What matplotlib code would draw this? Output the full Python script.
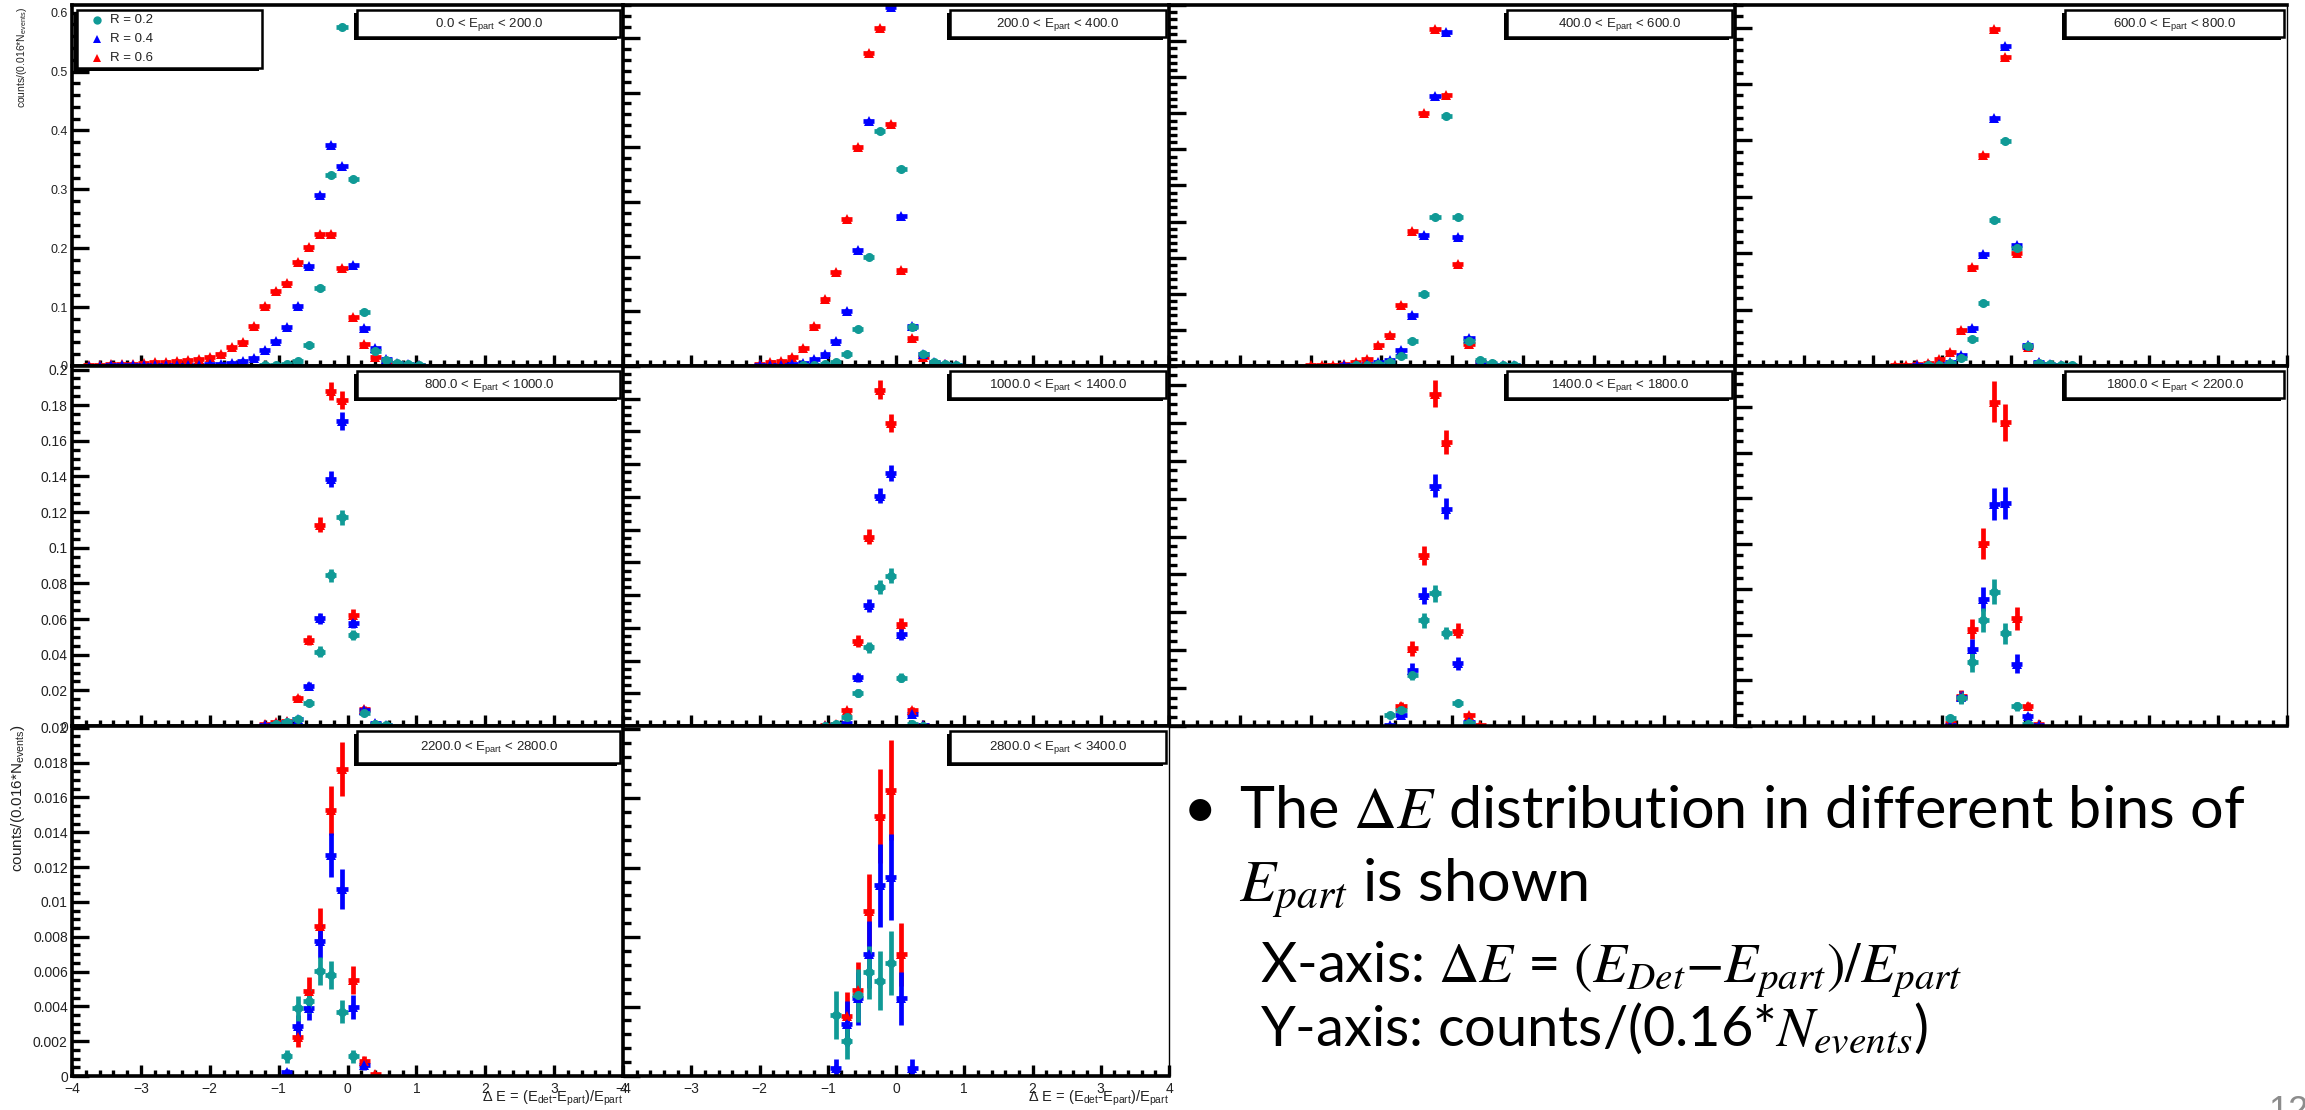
import matplotlib.pyplot as plt
from matplotlib.lines import Line2D
from matplotlib.patches import Rectangle
from matplotlib.ticker import MultipleLocator, FuncFormatter, NullFormatter

plt.rcParams['font.family'] = 'Liberation Sans'
plt.rcParams['mathtext.fontset'] = 'custom'
plt.rcParams['mathtext.rm'] = 'Liberation Sans'
plt.rcParams['mathtext.it'] = 'Liberation Sans:italic'
plt.rcParams['mathtext.bf'] = 'Liberation Sans:bold'

TEAL = '#109a96'
BLUE = '#0000ff'
RED = '#ff0000'
HALF_BIN = 0.08
NOTE_FONT = ['Liberation Sans Narrow', 'Lato']

# E_part bins of the ten pads
e_lo = [0.0, 200.0, 400.0, 600.0, 800.0, 1000.0, 1400.0, 1800.0, 2200.0, 2800.0]
e_hi = [200.0, 400.0, 600.0, 800.0, 1000.0, 1400.0, 1800.0, 2200.0, 2800.0, 3400.0]

# bin centres of Delta E used in each group of pads
x_p1 = [-3.76, -3.60, -3.44, -3.28, -3.12, -2.96, -2.80, -2.64, -2.48, -2.32, -2.16,
        -2.00, -1.84, -1.68, -1.52, -1.36, -1.20, -1.04, -0.88, -0.72, -0.56, -0.40,
        -0.24, -0.08, 0.08, 0.24, 0.40, 0.56, 0.72, 0.88, 1.04]
x_row1 = [-2.00, -1.84, -1.68, -1.52, -1.36, -1.20, -1.04, -0.88, -0.72, -0.56,
          -0.40, -0.24, -0.08, 0.08, 0.24, 0.40, 0.56, 0.72, 0.88]
x_row2 = [-1.20, -1.04, -0.88, -0.72, -0.56, -0.40, -0.24, -0.08, 0.08, 0.24, 0.40, 0.56]
x_row3 = [-0.88, -0.72, -0.56, -0.40, -0.24, -0.08, 0.08, 0.24, 0.40]

# pad 1: 0 < E < 200
r02_p1 = [0, 0, 0, 0, 0, 0, 0, 0, 0, 0, 0, 0, 0, 0, 0, 0, 0.001, 0.002, 0.003, 0.0085,
          0.035, 0.1325, 0.325, 0.576, 0.317, 0.091, 0.025, 0.010, 0.005, 0.003, 0.002]
r04_p1 = [0.0005, 0.0005, 0.001, 0.001, 0.001, 0.001, 0.0015, 0.0015, 0.002, 0.002, 0.002,
          0.003, 0.004, 0.005, 0.0085, 0.014, 0.027, 0.0427, 0.0665, 0.1025, 0.169, 0.291,
          0.375, 0.340, 0.172, 0.065, 0.030, 0.0125, 0.005, 0.003, 0.002]
r06_p1 = [0.002, 0.002, 0.003, 0.003, 0.004, 0.005, 0.006, 0.007, 0.008, 0.010, 0.0125,
          0.016, 0.020, 0.0325, 0.040, 0.068, 0.1025, 0.127, 0.141, 0.176, 0.2025, 0.2247,
          0.2247, 0.166, 0.0836, 0.037, 0.016, 0.006, 0.003, 0.002, 0.001]

# pad 2: 200 < E < 400
r02_p2 = [0, 0, 0, 0, 0.001, 0.002, 0.003, 0.007, 0.0225, 0.068, 0.199, 0.430, 0.71,
          0.361, 0.072, 0.022, 0.008, 0.004, 0.002]
r04_p2 = [0.001, 0.001, 0.002, 0.003, 0.006, 0.012, 0.0225, 0.045, 0.100, 0.212, 0.448,
          0.70, 0.657, 0.274, 0.074, 0.0225, 0.008, 0.003, 0.002]
r06_p2 = [0.004, 0.007, 0.010, 0.0165, 0.0335, 0.073, 0.122, 0.172, 0.268, 0.40, 0.573,
          0.618, 0.443, 0.175, 0.052, 0.016, 0.006, 0.003, 0.001]

# pad 3: 400 < E < 600
r02_p3 = [0, 0, 0, 0, 0.001, 0.002, 0.003, 0.006, 0.014, 0.0347, 0.100, 0.207, 0.346,
          0.206, 0.035, 0.008, 0.004, 0.002, 0.001]
r04_p3 = [0, 0, 0, 0.001, 0.002, 0.003, 0.005, 0.009, 0.0227, 0.070, 0.181, 0.374, 0.463,
          0.178, 0.039, 0.006, 0.003, 0.002, 0.001]
r06_p3 = [0.001, 0.001, 0.002, 0.003, 0.005, 0.010, 0.029, 0.0435, 0.085, 0.1875, 0.350,
          0.467, 0.376, 0.141, 0.031, 0.005, 0.002, 0.001, 0]

# pad 4: 600 < E < 800
r02_p4 = [0, 0, 0, 0, 0, 0.001, 0.002, 0.005, 0.014, 0.047, 0.111, 0.2595, 0.399, 0.21,
          0.035, 0.006, 0.004, 0.002, 0.001]
r04_p4 = [0, 0, 0, 0, 0.001, 0.002, 0.003, 0.007, 0.019, 0.068, 0.198, 0.439, 0.568,
          0.215, 0.037, 0.007, 0.003, 0.002, 0]
r06_p4 = [0, 0, 0.001, 0.002, 0.003, 0.006, 0.012, 0.025, 0.064, 0.175, 0.374, 0.597,
          0.547, 0.200, 0.033, 0.005, 0.002, 0.001, 0]

# pad 5: 800 < E < 1000
r02_p5 = [0, 0.001, 0.002, 0.004, 0.0131, 0.0417, 0.0845, 0.117, 0.051, 0.0075, 0.001, 0.0005]
r04_p5 = [0.0005, 0.001, 0.002, 0.004, 0.0225, 0.0605, 0.1386, 0.171, 0.0578, 0.0092, 0.0015, 0.0005]
r06_p5 = [0.001, 0.002, 0.003, 0.0156, 0.0483, 0.113, 0.188, 0.183, 0.0623, 0.0098, 0.001, 0]
e02_p5 = [0, 0.0005, 0.0007, 0.001, 0.0018, 0.003, 0.0035, 0.004, 0.0028, 0.0012, 0.0004, 0.0003]
e04_p5 = [0.0003, 0.0005, 0.0007, 0.001, 0.002, 0.003, 0.0045, 0.005, 0.003, 0.0012, 0.0005, 0.0003]
e06_p5 = [0.0005, 0.0007, 0.0009, 0.0018, 0.0028, 0.004, 0.005, 0.005, 0.0032, 0.0013, 0.0005, 0]

# pad 6: 1000 < E < 1400
r02_p6 = [0, 0.0003, 0.0012, 0.0054, 0.0203, 0.048, 0.085, 0.0919, 0.0295, 0.0012, 0.0003, 0]
r04_p6 = [0, 0.0003, 0.0008, 0.002, 0.0297, 0.0737, 0.1407, 0.1546, 0.056, 0.0075, 0.0008, 0]
r06_p6 = [0, 0.0005, 0.001, 0.0095, 0.052, 0.1158, 0.2056, 0.185, 0.0622, 0.010, 0.0005, 0]
e02_p6 = [0, 0.0003, 0.0006, 0.0012, 0.0023, 0.0035, 0.0042, 0.0045, 0.0027, 0.0006, 0.0003, 0]
e04_p6 = [0, 0.0003, 0.0005, 0.0008, 0.0028, 0.0040, 0.0045, 0.0050, 0.0034, 0.0014, 0.0005, 0]
e06_p6 = [0, 0.0004, 0.0006, 0.0017, 0.0036, 0.0045, 0.0058, 0.0055, 0.0037, 0.0016, 0.0004, 0]

# pad 7: 1400 < E < 1800
r02_p7 = [0, 0, 0.0057, 0.0084, 0.027, 0.0557, 0.070, 0.049, 0.012, 0.0015, 0, 0]
r04_p7 = [0, 0, 0.0004, 0.0057, 0.0298, 0.0691, 0.1268, 0.1147, 0.033, 0.002, 0, 0]
r06_p7 = [0, 0, 0, 0.0107, 0.041, 0.090, 0.1754, 0.150, 0.0504, 0.0057, 0.0007, 0]
e02_p7 = [0, 0, 0.0012, 0.0015, 0.0028, 0.004, 0.0045, 0.0032, 0.0015, 0.0005, 0, 0]
e04_p7 = [0, 0, 0.0004, 0.0012, 0.0036, 0.0045, 0.006, 0.0055, 0.0033, 0.0008, 0, 0]
e06_p7 = [0, 0, 0, 0.0018, 0.0041, 0.0049, 0.007, 0.0064, 0.0037, 0.0013, 0.0005, 0]

# pad 8: 1800 < E < 2200
r02_p8 = [0, 0, 0.0037, 0.0123, 0.028, 0.0465, 0.059, 0.0406, 0.0086, 0.001, 0, 0]
r04_p8 = [0, 0, 0.0005, 0.0128, 0.034, 0.0556, 0.0974, 0.0979, 0.0273, 0.0044, 0.0005, 0]
r06_p8 = [0, 0, 0.0015, 0.013, 0.0424, 0.0801, 0.1424, 0.1333, 0.0472, 0.0089, 0.0007, 0]
e02_p8 = [0, 0, 0.0012, 0.0027, 0.0041, 0.0052, 0.0056, 0.0047, 0.0018, 0.0006, 0, 0]
e04_p8 = [0, 0, 0.0005, 0.0027, 0.0041, 0.0052, 0.0071, 0.0071, 0.0041, 0.0013, 0.0005, 0]
e06_p8 = [0, 0, 0.0008, 0.0027, 0.0044, 0.0066, 0.0089, 0.0081, 0.0049, 0.0018, 0.0006, 0]

# pad 9: 2200 < E < 2800
r02_p9 = [0.00112, 0.00388, 0.0043, 0.00603, 0.00578, 0.00369, 0.00112, 0, 0]
r04_p9 = [0.00023, 0.00285, 0.00388, 0.00774, 0.01268, 0.01074, 0.00397, 0.00065, 0]
r06_p9 = [0, 0.00222, 0.00489, 0.0086, 0.01525, 0.01762, 0.00551, 0.00089, 0.0001]
e02_p9 = [0.00038, 0.00072, 0.00067, 0.0008, 0.0008, 0.00067, 0.00038, 0, 0]
e04_p9 = [0.0002, 0.00063, 0.00067, 0.00095, 0.00127, 0.00116, 0.00067, 0.00028, 0]
e06_p9 = [0, 0.00053, 0.0008, 0.00105, 0.0014, 0.00154, 0.00082, 0.00028, 0.0001]

# pad 10: 2800 < E < 3400
r02_p10 = [0.00439, 0.00253, 0.0058, 0.00747, 0.00687, 0.00812, 0, 0, 0]
r04_p10 = [0.0006, 0.00378, 0.0056, 0.00875, 0.01374, 0.01434, 0.0056, 0.0006, 0]
r06_p10 = [0, 0.00434, 0.0062, 0.01186, 0.01873, 0.0206, 0.00875, 0, 0]
e02_p10 = [0.0017, 0.0013, 0.0019, 0.0019, 0.0021, 0.0023, 0, 0, 0]
e04_p10 = [0.0006, 0.0016, 0.0019, 0.0024, 0.0030, 0.0031, 0.0019, 0.0006, 0]
e06_p10 = [0, 0.0017, 0.0020, 0.0027, 0.0034, 0.0036, 0.0023, 0, 0]

x_lists = [x_p1, x_row1, x_row1, x_row1, x_row2, x_row2, x_row2, x_row2, x_row3, x_row3]
r02 = [r02_p1, r02_p2, r02_p3, r02_p4, r02_p5, r02_p6, r02_p7, r02_p8, r02_p9, r02_p10]
r04 = [r04_p1, r04_p2, r04_p3, r04_p4, r04_p5, r04_p6, r04_p7, r04_p8, r04_p9, r04_p10]
r06 = [r06_p1, r06_p2, r06_p3, r06_p4, r06_p5, r06_p6, r06_p7, r06_p8, r06_p9, r06_p10]
e02 = [None, None, None, None, e02_p5, e02_p6, e02_p7, e02_p8, e02_p9, e02_p10]
e04 = [None, None, None, None, e04_p5, e04_p6, e04_p7, e04_p8, e04_p9, e04_p10]
e06 = [None, None, None, None, e06_p5, e06_p6, e06_p7, e06_p8, e06_p9, e06_p10]

# y range and tick steps of each pad
y_top = [0.613, 0.66, 0.50, 0.64, 0.202, 0.22, 0.19, 0.158, 0.0201, 0.0252]
y_major = [0.1, 0.1, 0.05, 0.1, 0.02, 0.02, 0.02, 0.02, 0.002, 0.005]
y_minor = [0.02, 0.02, 0.01, 0.02, 0.005, 0.005, 0.005, 0.005, 0.0005, 0.001]

pad_row = [0, 0, 0, 0, 1, 1, 1, 1, 2, 2]
pad_col = [0, 1, 2, 3, 0, 1, 2, 3, 0, 1]

W, H = 2305, 1110
fig = plt.figure(figsize=(W / 100, H / 100), dpi=100)
col_x = [72, 623, 1169, 1735, 2287]
row_y = [5, 366, 726, 1076]


def fx(px):
    return px / W


def fy(py):
    return 1 - py / H


def add_pave(x0, y0, x1, y1):
    # white box with a black drop shadow, in pixel coords from the top left
    fig.add_artist(Rectangle((fx(x0 - 3), fy(y1 + 3)), (x1 - x0) / W, (y1 - y0) / H,
                             transform=fig.transFigure, facecolor='black', edgecolor='none'))
    fig.add_artist(Rectangle((fx(x0), fy(y1)), (x1 - x0) / W, (y1 - y0) / H,
                             transform=fig.transFigure, facecolor='white',
                             edgecolor='black', linewidth=1.8))


gfmt = FuncFormatter(lambda v, p: f'{v:g}'.replace('-', '\u2212'))

for i in range(10):
    r, c = pad_row[i], pad_col[i]
    x0, x1 = col_x[c], col_x[c + 1]
    y0, y1 = row_y[r], row_y[r + 1]
    ax = fig.add_axes([fx(x0), fy(y1), (x1 - x0) / W, (y1 - y0) / H])
    ax.set_xlim(-4, 4)
    ax.set_ylim(0, y_top[i])

    series = [(r06[i], e06[i], RED, '^'), (r04[i], e04[i], BLUE, '^'), (r02[i], e02[i], TEAL, 'o')]
    for vals, errs, color, marker in series:
        xs = [x for x, v in zip(x_lists[i], vals) if v > 0]
        ys = [v for v in vals if v > 0]
        es = None
        if errs is not None:
            es = [e for e, v in zip(errs, vals) if v > 0]
        ax.errorbar(xs, ys, xerr=HALF_BIN, yerr=es, fmt=marker, color=color, ms=6.5,
                    mew=0, elinewidth=3.4, capsize=0)

    for side in ('left', 'bottom', 'top'):
        ax.spines[side].set_linewidth(2.6)
    ax.spines['right'].set_linewidth(1.0)

    ax.xaxis.set_major_locator(MultipleLocator(1))
    ax.xaxis.set_minor_locator(MultipleLocator(0.2))
    ax.yaxis.set_major_locator(MultipleLocator(y_major[i]))
    ax.yaxis.set_minor_locator(MultipleLocator(y_minor[i]))
    ax.tick_params(axis='x', which='major', direction='in', length=8, width=2.4)
    ax.tick_params(axis='x', which='minor', direction='in', length=4, width=2.4)
    ax.tick_params(axis='y', which='major', direction='in', length=12, width=2.4)
    ax.tick_params(axis='y', which='minor', direction='in', length=6, width=2.4)
    ax.tick_params(which='both', top=False, right=False)

    if c == 0:
        ax.yaxis.set_major_formatter(gfmt)
        ax.tick_params(axis='y', labelsize=9 if r == 0 else 10, pad=3, labelcolor='#222222')
    else:
        ax.yaxis.set_major_formatter(NullFormatter())
    if r == 2:
        ax.xaxis.set_major_formatter(gfmt)
        ax.tick_params(axis='x', labelsize=10, pad=4, labelcolor='#222222')
        fig.text(fx(x1), fy(1089), r'$\Delta$ E = (E$_{\mathrm{det}}$-E$_{\mathrm{part}}$)/E$_{\mathrm{part}}$',
                 ha='right', va='top', fontsize=10.5, color='#222222')
    else:
        ax.xaxis.set_major_formatter(NullFormatter())

    # energy bin label
    bx0 = x0 + (0.518 if c == 0 else 0.598) * (x1 - x0)
    bx1 = x0 + 0.995 * (x1 - x0)
    by0 = y0 + 5
    by1 = by0 + (27 if r < 2 else 32)
    add_pave(bx0, by0, bx1, by1)
    fig.text(fx((bx0 + bx1) / 2), fy((by0 + by1) / 2 + 1),
             f'{e_lo[i]:.1f} < E$_{{\\mathrm{{part}}}}$ < {e_hi[i]:.1f}',
             ha='center', va='center', fontsize=9.5, color='#222222')

# legend of the first pad
add_pave(77, 10, 262, 68)
for k, (name, color, marker) in enumerate([('R = 0.2', TEAL, 'o'), ('R = 0.4', BLUE, '^'),
                                           ('R = 0.6', RED, '^')]):
    yk = 20 + 19 * k
    fig.add_artist(Line2D([fx(97)], [fy(yk)], transform=fig.transFigure, marker=marker,
                          color=color, ms=6, mew=0, linestyle='none'))
    fig.text(fx(110), fy(yk), name, ha='left', va='center', fontsize=9.5, color='#222222')

ylab = 'counts/(0.016*N$_{\\mathrm{events}}$)'
fig.text(fx(22), fy(7), ylab, rotation=90, ha='center', va='top', fontsize=7.5, color='#222222')
fig.text(fx(18), fy(724), ylab, rotation=90, ha='center', va='top', fontsize=11, color='#222222')

# notes next to the last pads
renderer = fig.canvas.get_renderer()


def fit_width(txt, target):
    w = txt.get_window_extent(renderer).width
    txt.set_fontsize(txt.get_fontsize() * target / w)


t1 = fig.text(fx(1239), fy(828), r'The $\Delta E$ distribution in different bins of',
              fontsize=30, family=NOTE_FONT, math_fontfamily='stix', va='baseline')
fit_width(t1, 1007)
big = t1.get_fontsize()
fig.text(fx(1200), fy(828), '\u2022', fontsize=big, family=NOTE_FONT, ha='center', va='baseline')
fig.text(fx(1239), fy(902), r'$E_{part}$ is shown', fontsize=big, family=NOTE_FONT,
         math_fontfamily='stix', va='baseline')
t3 = fig.text(fx(1260), fy(982), r'X-axis: $\Delta E$ = $(E_{Det}$$-$$E_{part})/E_{part}$',
              fontsize=24, family=NOTE_FONT, math_fontfamily='stix', va='baseline')
fit_width(t3, 705)
fig.text(fx(1260), fy(1046), r'Y-axis: counts/(0.16*$N_{events}$)', fontsize=t3.get_fontsize(),
         family=NOTE_FONT, math_fontfamily='stix', va='baseline')

fig.text(fx(2268), fy(1095), '12', fontsize=26, color='#8c8c8c', ha='left', va='top')

fig.savefig('out.png', dpi=100, facecolor='white')
